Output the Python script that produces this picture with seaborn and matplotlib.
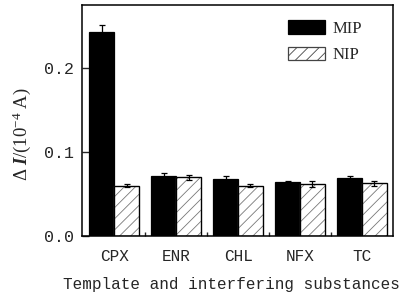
import matplotlib
matplotlib.use('Agg')
import matplotlib.pyplot as plt
import pandas as pd
import seaborn as sns
import numpy as np

sns.set_style('ticks')
plt.rcParams['font.family'] = ['Liberation Mono', 'DejaVu Sans']
plt.rcParams['mathtext.fontset'] = 'custom'
plt.rcParams['mathtext.rm'] = 'Liberation Serif'
plt.rcParams['mathtext.it'] = 'Liberation Serif:italic:bold'
plt.rcParams['hatch.linewidth'] = 0.6

substances = ['CPX', 'ENR', 'CHL', 'NFX', 'TC']
mip_values = [0.243, 0.072, 0.068, 0.064, 0.069]
nip_values = [0.060, 0.070, 0.060, 0.062, 0.063]
mip_errors = [0.008, 0.003, 0.003, 0.002, 0.003]
nip_errors = [0.002, 0.003, 0.002, 0.003, 0.003]
groups = ['MIP', 'NIP']


def main():
    data = pd.DataFrame({
        'substance': substances * 2,
        'group': ['MIP'] * len(substances) + ['NIP'] * len(substances),
        'value': mip_values + nip_values,
        'err': mip_errors + nip_errors,
    })

    fig = plt.figure(figsize=(4.03, 2.94), dpi=100)
    ax = fig.add_axes([0.2035, 0.197, 0.7715, 0.786])

    sns.barplot(data=data, x='substance', y='value', hue='group',
                hue_order=groups, order=substances,
                palette={'MIP': 'black', 'NIP': 'white'},
                edgecolor='black', linewidth=0.9, errorbar=None,
                saturation=1, width=0.8, ax=ax)

    n = len(substances)
    bars = list(ax.patches[:2 * n])
    for i, bar in enumerate(bars):
        if i >= n:
            # gray hatch, then a black outline on top
            bar.set_hatch('///')
            bar.set_edgecolor('#777777')
            ax.add_patch(plt.Rectangle((bar.get_x(), bar.get_y()),
                                       bar.get_width(), bar.get_height(),
                                       fill=False, edgecolor='black',
                                       linewidth=0.9, zorder=bar.get_zorder()))
        x = bar.get_x() + bar.get_width() / 2
        ax.errorbar(x, data['value'][i], yerr=data['err'][i], color='black',
                    capsize=2, elinewidth=0.9, capthick=0.9, fmt='none',
                    zorder=3)

    ax.set_xlim(-0.52, 4.5)
    ax.set_ylim(0, 0.275)
    ax.set_yticks([0.0, 0.1, 0.2])
    ax.set_yticklabels(['0.0', '0.1', '0.2'], fontsize=12)
    ax.set_xticks(range(n))
    ax.set_xticklabels(substances, fontsize=11.5)
    ax.set_xticks(np.arange(0.5, n - 0.5, 1), minor=True)
    ax.tick_params(axis='x', which='major', length=0, pad=9)
    ax.tick_params(axis='x', which='minor', direction='in', length=3, width=1)
    ax.tick_params(axis='y', direction='in', length=5, width=1, pad=6)

    for spine in ax.spines.values():
        spine.set_visible(True)
        spine.set_linewidth(1.1)
        spine.set_color('black')

    ax.set_xlabel('Template and interfering substances', fontsize=11.5)
    ax.xaxis.set_label_coords(0.479, -0.175)
    ax.set_ylabel(r'$\Delta\;I$/(10$^{-4}$ A)', fontsize=13.5,
                  family='Liberation Serif')
    ax.yaxis.set_label_coords(-0.158, 0.44)

    handles, labels = ax.get_legend_handles_labels()
    leg = ax.legend(handles, labels, loc='upper right', frameon=False,
                    prop={'family': 'Liberation Serif', 'size': 12},
                    handlelength=2.2, handleheight=0.9,
                    handletextpad=0.5, labelspacing=0.6,
                    bbox_to_anchor=(0.95, 1.0))
    leg.legend_handles[0].set_edgecolor('black')
    leg.legend_handles[1].set_edgecolor('#444444')
    leg.legend_handles[1].set_hatch('///')

    plt.savefig('out.png', dpi=100)


if __name__ == '__main__':
    main()
